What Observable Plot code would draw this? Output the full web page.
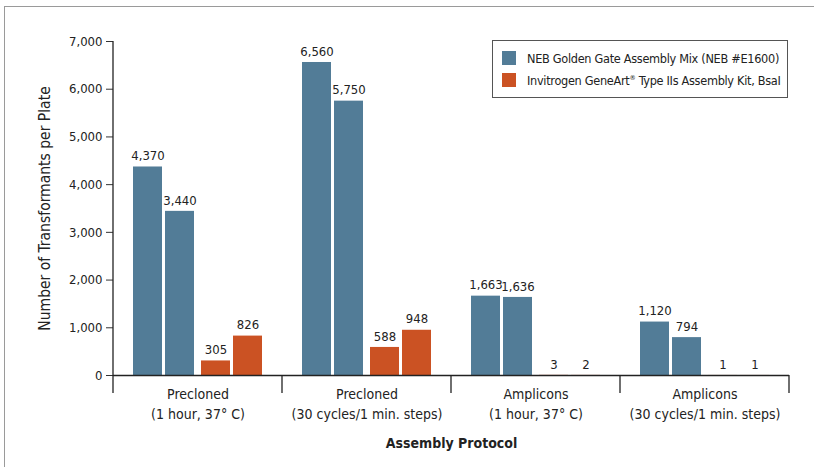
<!DOCTYPE html>
<html><head><meta charset="utf-8">
<script src="https://cdn.jsdelivr.net/npm/d3@7"></script>
<script src="https://cdn.jsdelivr.net/npm/@observablehq/plot@0.6"></script>
<style>
body{margin:0;background:#fff;}
#wrap{position:relative;width:814px;height:467px;overflow:hidden;font-family:"DejaVu Sans Condensed","DejaVu Sans",sans-serif;font-stretch:condensed;}
#wrap svg{position:absolute;left:0;top:0;font-stretch:condensed;}
#border{position:absolute;left:4px;top:6px;width:840px;height:490px;border-top:1.5px solid #9a9a9a;border-left:1.5px solid #9a9a9a;}
#legend{position:absolute;left:492px;top:40px;width:294px;height:56px;border:1.5px solid #555;background:#fff;font-size:12.6px;letter-spacing:-0.3px;color:#222;}
.item{position:absolute;left:9px;display:flex;align-items:center;white-space:nowrap;height:14px;}
.sw{width:14px;height:14px;margin-right:11px;flex:none;}
sup{font-size:0.55em;vertical-align:0.7em;line-height:0;}
[aria-label="fx-axis label"] text{font-weight:bold;font-size:14px;}
[aria-label="y-axis label"] text{font-size:15.5px;}
</style></head>
<body><div id="wrap"><div id="border"></div></div>
<script>
const groups = [
  "Precloned\n(1 hour, 37° C)",
  "Precloned\n(30 cycles/1 min. steps)",
  "Amplicons\n(1 hour, 37° C)",
  "Amplicons\n(30 cycles/1 min. steps)"
];
const series = [
  "NEB Golden Gate Assembly Mix (NEB #E1600)",
  "Invitrogen GeneArt® Type IIs Assembly Kit, BsaI"
];
const nebRun1 = [4370, 6560, 1663, 1120];
const nebRun2 = [3440, 5750, 1636, 794];
const invRun1 = [305, 588, 3, 1];
const invRun2 = [826, 948, 2, 1];
const barKeys = ["neb1", "neb2", "inv1", "inv2"];
const yTicks = [0, 1000, 2000, 3000, 4000, 5000, 6000, 7000];
const colors = ["#527c97", "#cb5223"];

const rows = [];
groups.forEach((g, i) => {
  rows.push({group: g, series: series[0], bar: barKeys[0], value: nebRun1[i]});
  rows.push({group: g, series: series[0], bar: barKeys[1], value: nebRun2[i]});
  rows.push({group: g, series: series[1], bar: barKeys[2], value: invRun1[i]});
  rows.push({group: g, series: series[1], bar: barKeys[3], value: invRun2[i]});
});
const neb = rows.filter(d => d.series === series[0]);
const inv = rows.filter(d => d.series === series[1]);
const fmt = d3.format(",");
const FONT = '"DejaVu Sans Condensed","DejaVu Sans",sans-serif';

const plot = Plot.plot({
  width: 814, height: 467,
  marginLeft: 113, marginRight: 25, marginTop: 41, marginBottom: 92,
  style: {fontFamily: FONT, fontStretch: "condensed", fontSize: "13px", color: "#222", background: "transparent", overflow: "visible"},
  fx: {domain: groups, padding: 0, label: "Assembly Protocol"},
  x: {domain: barKeys, paddingInner: 0.094, paddingOuter: 0.6875, axis: null},
  y: {domain: [0, 7000]},
  color: {domain: series, range: colors},
  marks: [
    Plot.barY(neb, {fx: "group", x: "bar", y: "value", fill: "series", dx: -2}),
    Plot.barY(inv, {fx: "group", x: "bar", y: "value", fill: "series", dx: 2}),
    Plot.text(neb, {fx: "group", x: "bar", y: "value", text: d => fmt(d.value), dx: -2, dy: -11, fill: "#222", fontSize: 13}),
    Plot.text(inv, {fx: "group", x: "bar", y: "value", text: d => fmt(d.value), dx: 2, dy: -11, fill: "#222", fontSize: 13}),
    Plot.ruleY([0], {stroke: "#222", strokeWidth: 1.3}),
    Plot.axisY({ticks: yTicks, tickFormat: fmt, tickSize: 7, tickPadding: 4, stroke: "#333", fontSize: 13,
      label: "Number of Transformants per Plate", labelAnchor: "center", labelArrow: "none", labelOffset: 75}),
    Plot.axisFx({anchor: "bottom", tickSize: 0, tickPadding: 10, lineHeight: 1.4, fontSize: 14,
      label: "Assembly Protocol", labelAnchor: "center", labelArrow: "none", labelOffset: 72})
  ]
});

const wrap = document.getElementById("wrap");
wrap.appendChild(plot);

// axis line and group boundary ticks, placed via the plot's own scales
const fxs = plot.scale("fx"), ys = plot.scale("y");
const bounds = groups.map(g => fxs.apply(g));
bounds.push(fxs.apply(groups[groups.length - 1]) + fxs.bandwidth);
const y0 = ys.apply(0), yTop = ys.apply(yTicks[yTicks.length - 1]);
const g = d3.select(plot).append("g").attr("stroke", "#222").attr("stroke-width", 1.3);
g.append("line").attr("x1", bounds[0]).attr("x2", bounds[0]).attr("y1", yTop).attr("y2", y0);
bounds.forEach(b => g.append("line").attr("x1", b).attr("x2", b).attr("y1", y0).attr("y2", y0 + 18));

// legend
const cs = plot.scale("color");
const legend = document.createElement("div");
legend.id = "legend";
const labelsHtml = [
  "NEB Golden Gate Assembly Mix (NEB #E1600)",
  "Invitrogen GeneArt<sup>®</sup> Type IIs Assembly Kit, BsaI"
];
series.forEach((s, i) => {
  const it = document.createElement("div");
  it.className = "item";
  it.style.top = (10 + i * 22) + "px";
  it.innerHTML = `<div class="sw" style="background:${cs.apply(s)}"></div><span>${labelsHtml[i]}</span>`;
  legend.appendChild(it);
});
wrap.appendChild(legend);
</script>
</body></html>
